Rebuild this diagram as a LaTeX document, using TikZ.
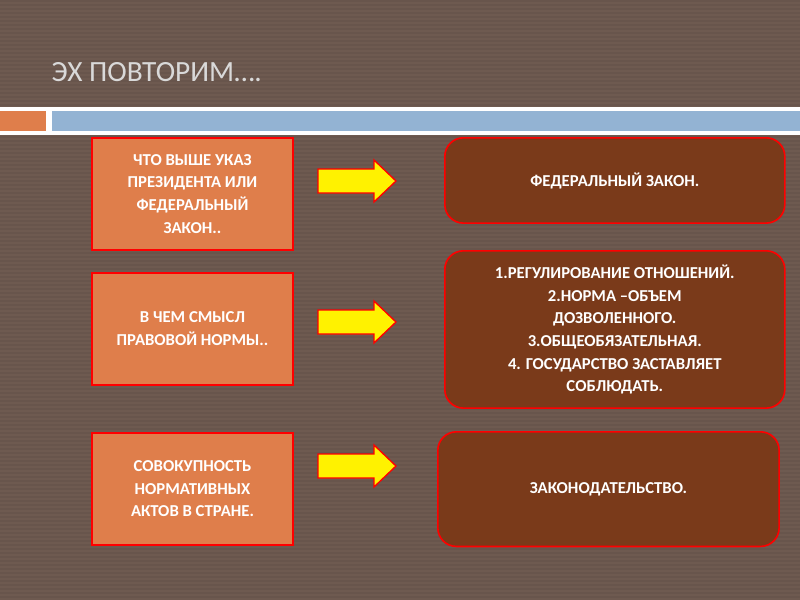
\documentclass[tikz,border=0pt]{standalone}
\usepackage{fontspec}
\setmainfont{Carlito}
\definecolor{bg}{HTML}{6E5A50}
\definecolor{stripe}{HTML}{68554C}
\definecolor{lbox}{HTML}{DF7E4B}
\definecolor{rbox}{HTML}{7A3A1A}
\definecolor{bandblue}{HTML}{93B3D3}
\tikzset{
 lq/.style={draw=red,line width=1.2pt,fill=lbox,text=white,font=\bfseries\fontsize{12.5}{17}\selectfont,align=center,anchor=north west,inner sep=0pt},
 rq/.style={draw=red,line width=1.2pt,fill=rbox,text=white,font=\bfseries\fontsize{12.5}{17}\selectfont,align=center,anchor=north west,inner sep=0pt,rounded corners=14pt},
 arr/.style={draw=red,line width=1pt,fill=yellow,line join=miter}
}
\newcommand{\myarrow}[2]{\draw[arr] (#1,#2) ++(-39,-12) -- ++(56,0) -- ++(0,-9) -- ++(22,21) -- ++(-22,21) -- ++(0,-9) -- ++(-56,0) -- cycle;}
\begin{document}
\begin{tikzpicture}[x=0.75pt,y=-0.75pt]
\fill[bg] (0,0) rectangle (800,600);
\foreach \i in {0,...,149} {\fill[stripe] (0,\i*4) rectangle (800,\i*4+1.5);}
\useasboundingbox (0,0) rectangle (800,600);
\fill[white] (0,107) rectangle (800,135);
\fill[lbox] (0,111) rectangle (46,131);
\fill[bandblue] (52,111) rectangle (800,131);
\node[anchor=west,text=white!85!black,font=\fontsize{22}{26}\selectfont] (t) at (47,72) {ЭХ ПОВТОРИМ….};
\node[lq,minimum width=151pt,minimum height=84pt] (l1) at (91,137) {ЧТО ВЫШЕ УКАЗ\\ПРЕЗИДЕНТА  ИЛИ\\ФЕДЕРАЛЬНЫЙ\\ЗАКОН..};
\node[lq,minimum width=151pt,minimum height=84pt] (l2) at (91,272) {В ЧЕМ СМЫСЛ\\ПРАВОВОЙ НОРМЫ..};
\node[lq,minimum width=151pt,minimum height=84pt] (l3) at (91,432) {СОВОКУПНОСТЬ\\НОРМАТИВНЫХ\\АКТОВ В СТРАНЕ.};
\myarrow{357}{181}
\myarrow{357}{322}
\myarrow{357}{466}
\node[rq,minimum width=255pt,minimum height=64pt] (r1) at (444,137) {ФЕДЕРАЛЬНЫЙ ЗАКОН.};
\node[rq,minimum width=255pt,minimum height=118pt] (r2) at (444,250) {1.РЕГУЛИРОВАНИЕ ОТНОШЕНИЙ.\\2.НОРМА –ОБЪЕМ\\ДОЗВОЛЕННОГО.\\3.ОБЩЕОБЯЗАТЕЛЬНАЯ.\\4. ГОСУДАРСТВО ЗАСТАВЛЯЕТ\\СОБЛЮДАТЬ.};
\node[rq,minimum width=256pt,minimum height=86pt] (r3) at (437,431) {ЗАКОНОДАТЕЛЬСТВО.};
\end{tikzpicture}
\end{document}
